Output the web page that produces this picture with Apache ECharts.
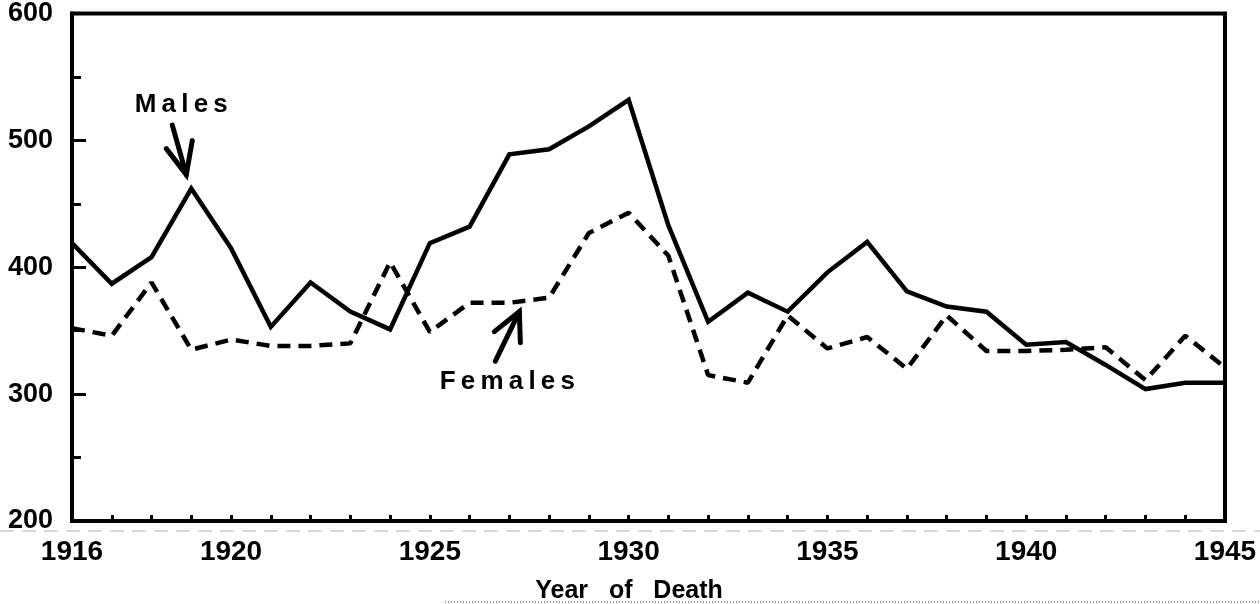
<!DOCTYPE html>
<html>
<head>
<meta charset="utf-8">
<script src="https://cdn.jsdelivr.net/npm/echarts@6/dist/echarts.min.js"></script>
<style>
  html, body { margin: 0; padding: 0; background: #fff; }
  #chart { width: 1260px; height: 604px; }
</style>
</head>
<body>
<div id="chart"></div>
<script>
const years = [];
for (let y = 1916; y <= 1945; y++) years.push(String(y));

const males = [419, 387, 408, 462, 415, 353, 388, 365, 351, 419,
               432, 489, 493, 511, 532, 433, 357, 380, 365, 396,
               420, 381, 369, 365, 339, 341, 323, 304, 309, 309];
const females = [352, 346, 388, 335, 343, 338, 338, 340, 404, 349,
                 372, 372, 376, 427, 443, 409, 315, 309, 362, 336,
                 345, 320, 362, 334, 334, 335, 337, 311, 346, 321];

const labelYears = ["1916", "1920", "1925", "1930", "1935", "1940", "1945"];

const chart = echarts.init(document.getElementById("chart"));
const font = "Liberation Sans";
const thin = "\u2009";

const option = {
  animation: false,
  grid: {
    left: 72, right: 35, top: 13, bottom: 83,
    show: true, borderColor: "#000", borderWidth: 4
  },
  xAxis: {
    type: "category",
    data: years,
    boundaryGap: false,
    axisLine: { lineStyle: { color: "#000", width: 4 } },
    axisTick: { inside: true, length: 6, interval: 0, lineStyle: { color: "#000", width: 3 } },
    axisLabel: {
      interval: (i, v) => labelYears.includes(v),
      margin: 17,
      color: "#000",
      fontFamily: font,
      fontWeight: "bold",
      fontSize: 28
    },
    splitLine: { show: false }
  },
  yAxis: {
    type: "value",
    min: 200, max: 600, interval: 100,
    axisLine: { show: true, lineStyle: { color: "#000", width: 4 } },
    axisTick: { show: true, inside: true, length: 14, lineStyle: { color: "#000", width: 3 } },
    minorTick: { show: true, splitNumber: 2, length: 9, lineStyle: { color: "#000", width: 3 } },
    axisLabel: {
      margin: 19,
      color: "#000",
      fontFamily: font,
      fontWeight: "bold",
      fontSize: 27
    },
    splitLine: { show: false }
  },
  series: [
    {
      name: "Males",
      type: "line",
      data: males,
      symbol: "none",
      lineStyle: { color: "#000", width: 4.5, join: "miter" }
    },
    {
      name: "Females",
      type: "line",
      data: females,
      symbol: "none",
      lineStyle: { color: "#000", width: 4.5, type: [13, 8] }
    }
  ]
};

chart.setOption(option);

// annotations anchored in data units
const px = (yr, v) => chart.convertToPixel({ gridIndex: 0 }, [String(yr), v]);
const yAt = v => chart.convertToPixel({ yAxisIndex: 0 }, v);
const arrow = (tail, tip, b1, b2) => [
  { type: "line", shape: { x1: tail[0], y1: tail[1], x2: tip[0], y2: tip[1] },
    style: { stroke: "#000", lineWidth: 5, lineCap: "round" } },
  { type: "polyline", shape: { points: [b1, tip, b2] },
    style: { stroke: "#000", lineWidth: 5, fill: null, lineCap: "round", lineJoin: "miter" } }
];

const mTip = px(1919, 0), fTip = px(1927, 0);
const mt = [mTip[0] - 5, yAt(473)], mTail = [mTip[0] - 19, yAt(512)];
const ft = [fTip[0] + 10, yAt(365)], fTail = [fTip[0] - 14, yAt(326)];
const spaced = s => s.split("").join(thin);

chart.setOption({
  graphic: [
    { type: "text", x: mTip[0] - 10, y: yAt(528), style: {
        text: spaced("Males"), font: "bold 26px " + font, fill: "#000",
        textAlign: "center", textVerticalAlign: "middle" } },
    ...arrow(mTail, mt, [mt[0] - 20, mt[1] - 26], [mt[0] + 6, mt[1] - 34]),
    { type: "text", x: fTip[0] - 2, y: yAt(310), style: {
        text: spaced("Females"), font: "bold 26px " + font, fill: "#000",
        textAlign: "center", textVerticalAlign: "middle" } },
    ...arrow(fTail, ft, [ft[0] - 25, ft[1] + 20], [ft[0] + 1, ft[1] + 31]),
    { type: "text", x: 629, y: 591, style: {
        text: "Year   of   Death", font: "bold 25px " + font, fill: "#000",
        textAlign: "center", textVerticalAlign: "middle" } },
    { type: "line", shape: { x1: 0, y1: 531, x2: 1260, y2: 531 },
      style: { stroke: "#aaa", lineWidth: 1, lineDash: [14, 8] } },
    { type: "line", shape: { x1: 445, y1: 602, x2: 1260, y2: 602 },
      style: { stroke: "#999", lineWidth: 2, lineDash: [1, 2] } }
  ]
});

window.addEventListener("resize", () => chart.resize());
</script>
</body>
</html>
